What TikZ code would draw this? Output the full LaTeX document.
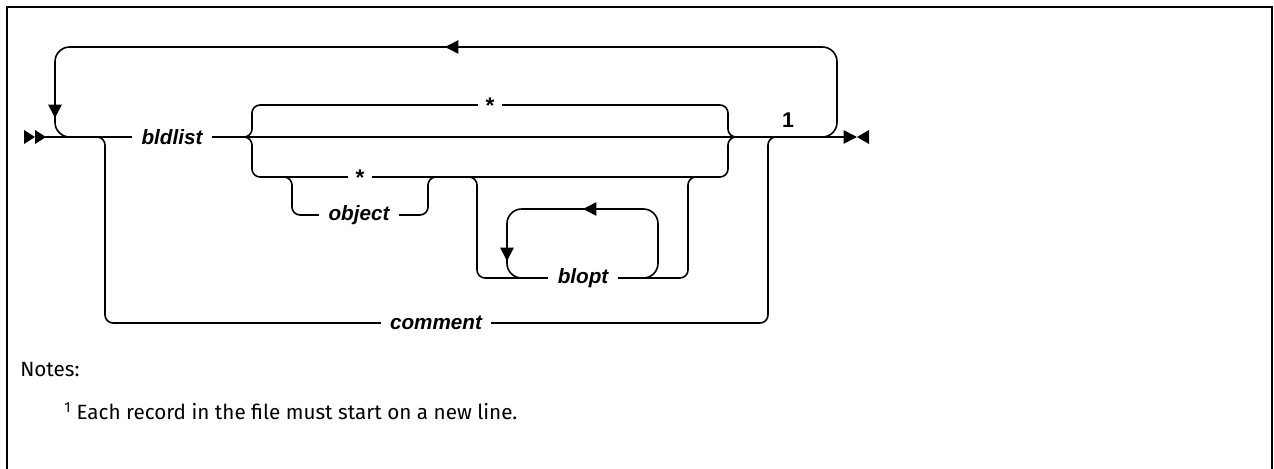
\documentclass[tikz,border=0pt]{standalone}
\usepackage{fontspec}
\setmainfont{Fira Sans}
\newfontfamily\railfont{Liberation Sans}
\usetikzlibrary{arrows.meta, positioning}

\begin{document}
\begin{tikzpicture}[x=0.75pt, y=-0.75pt,
			rail/.style={line width=1.2pt, black, rounded corners=6pt},
			loop/.style={line width=1.2pt, black, rounded corners=11pt},
			tip/.style={line width=1.2pt, black, -{Triangle[length=10pt,width=10pt]}},
			word/.style={fill=white, inner xsep=7pt, inner ysep=1pt, font=\railfont\bfseries\itshape\fontsize{15.5}{18}\selectfont},
			star/.style={fill=white, inner xsep=6pt, inner ysep=1pt, font=\railfont\bfseries\fontsize{17}{18}\selectfont},
			note/.style={anchor=west, inner sep=0pt, font=\fontsize{15.5}{18}\selectfont}
			]
			\useasboundingbox (0,0) rectangle (1274,468);
			\draw[line width=1.5pt] (7,470) -- (7,7) -- (1272,7) -- (1272,470);

			% main line and its ends
			\coordinate (start) at (45,137);
			\coordinate (stop) at (857,137);
			\fill (24,130) -- (35,137) -- (24,144) -- cycle;
			\fill (35,130) -- (46,137) -- (35,144) -- cycle;
			\draw[tip] (start) -- (stop);
			\fill (869,130) -- (857,137) -- (869,144) -- cycle;

			% repeat loop over everything
			\draw[loop] (820,137) -| (837,47) -| (55,137) -- (72,137);
			\draw[tip] (470,47) -- (445,47);
			\draw[tip] (55,100) -- (55,118);

			% comment branch
			\draw[rail] (91,137) -| (105,323) -| (768,137) -- (782,137);

			% star branches
			\draw[rail] (238,137) -| (252,105) -| (728,137) -- (742,137);
			\draw[rail] (238,137) -| (252,177) -| (728,137) -- (742,137);
			\draw[rail] (278,177) -| (292,215) -| (428,177) -- (442,177);
			\draw[rail] (463,177) -| (477,278) -| (688,177) -- (702,177);

			% blopt repeat
			\draw[loop] (644,278) -| (658,209) -| (507,278) -- (521,278);
			\draw[tip] (605,209) -- (583,209);
			\draw[tip] (507,240) -- (507,261);

			% labels
			\node[word] (bldlist) at (172,137) {bldlist};
			\node[star] (star1) at (490,106) {*};
			\node[star] (star2) at (360,178) {*};
			\node[word] (object) at (359,215) {object};
			\node[word] (blopt) at (583,278) {blopt};
			\node[word] (comment) at (436,323) {comment};
			\node[font=\railfont\bfseries\fontsize{16}{18}\selectfont] (one) at (788,120) {1};

			% notes
			\node[note] (notes) at (20,369) {Notes:};
			\node[note] (note1) at (64,411) {\textsuperscript{1} Each record in the file must start on a new line.};
		\end{tikzpicture}
\end{document}
